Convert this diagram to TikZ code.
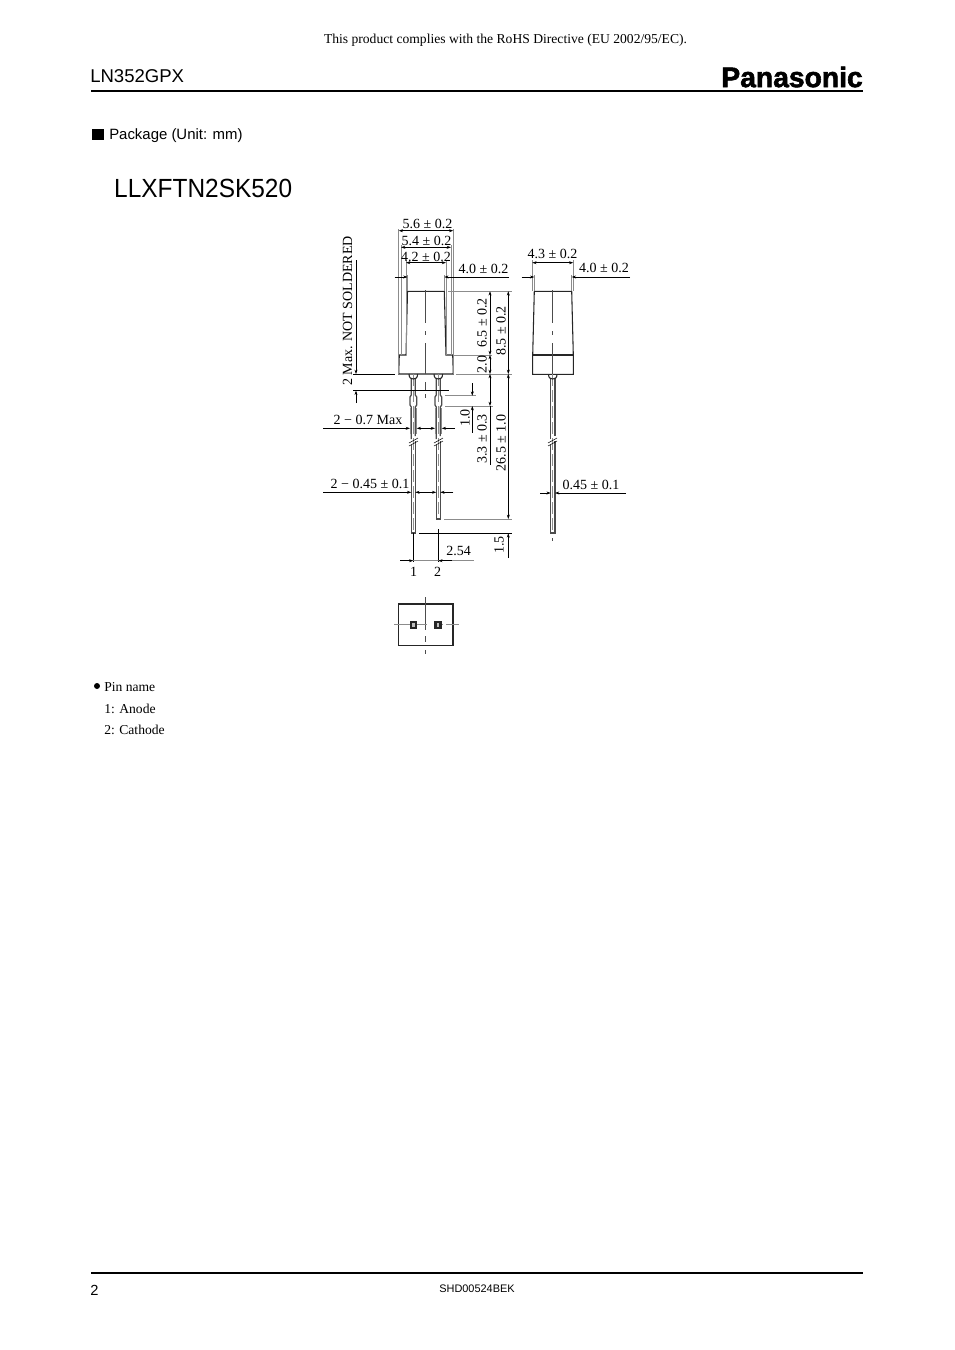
\documentclass[tikz,border=0pt]{standalone}
\usepackage{fontspec}
\setmainfont{Liberation Serif}
\setsansfont{Liberation Sans}
\newfontfamily\logofont[FakeBold=2]{Liberation Sans Bold}
\usetikzlibrary{arrows.meta}
\tikzset{
  dimtext/.style={inner sep=0pt,font=\fontsize{10.5}{12}\selectfont},
  sidetext/.style={dimtext,rotate=90},
  headtext/.style={inner sep=0pt,anchor=west,font=\sffamily},
  pintext/.style={inner sep=0pt,anchor=west,font=\fontsize{10.2}{12}\selectfont},
  outline/.style={line width=0.8pt,black!85},
  dimline/.style={line width=0.4pt,black,arrows={-}},
  extline/.style={line width=0.7pt,black!45},
  tipin/.style={-{Stealth[length=3.2pt,width=2.2pt]}},
  tipboth/.style={{Stealth[length=3.2pt,width=2.2pt]}-{Stealth[length=3.2pt,width=2.2pt]}},
  centerline/.style={line width=0.4pt,black!70},
  pinedge/.style={line width=0.95pt,black!70},
  pincore/.style={line width=0.8pt,black!45,dash pattern=on 9pt off 3pt},
  pad/.style={line width=1.8pt,black!85,fill=black!25}
}
\begin{document}
\begin{tikzpicture}[x=0.75pt,y=-0.75pt]
  \useasboundingbox (0,0) rectangle (954,1350);
  % page head
  \node[inner sep=0pt,font=\fontsize{10.2}{12}\selectfont] (rohs) at (505.5,40) {This product complies with the RoHS Directive (EU 2002/95/EC).};
  \node[headtext,font=\sffamily\fontsize{13.9}{16}\selectfont] (part) at (90,76) {LN352GPX};
  \node[inner sep=0pt,anchor=east,font=\logofont\fontsize{21.2}{24}\selectfont] (logo) at (863,77) {Panasonic};
  \draw[line width=1.5pt] (91,91) -- (863,91);
  \fill (92,129) rectangle (104,140);
  \node[headtext,font=\sffamily\fontsize{11.2}{13}\selectfont] (package) at (109,136) {Package (Unit: mm)};
  \node[headtext,xscale=0.93,font=\sffamily\fontsize{19.7}{23}\selectfont] (code) at (114,188) {LLXFTN2SK520};

  % front view
  \draw[outline] (407.5,291.3) -- (444.3,291.3) -- (446,355) -- (452.7,355) -- (453.3,374) -- (398.7,374) -- (399.3,355) -- (406,355) -- cycle;
  \draw[centerline] (425.7,290) -- (425.7,323) (425.7,331) -- (425.7,335) (425.7,343) -- (425.7,374);
  \draw[centerline] (425.7,382) -- (425.7,390) (425.7,394) -- (425.7,398);
  % leads
  \begin{scope}
    \draw[pincore] (413.3,374) -- (413.3,533);
    \draw[pinedge] (411.3,378) -- (411.3,395) -- (410,397) -- (410,405) -- (411.3,407) -- (411.3,439);
    \draw[pinedge] (415.3,378) -- (415.3,395) -- (416.7,397) -- (416.7,405) -- (415.3,407) -- (415.3,436);
    \draw[pinedge] (411.3,445) -- (411.3,533) -- (415.3,533) -- (415.3,441);
    \draw[pincore] (438.3,374) -- (438.3,519);
    \draw[pinedge] (436.3,378) -- (436.3,395) -- (435,397) -- (435,405) -- (436.3,407) -- (436.3,439);
    \draw[pinedge] (440.3,378) -- (440.3,395) -- (441.7,397) -- (441.7,405) -- (440.3,407) -- (440.3,436);
    \draw[pinedge] (436.3,445) -- (436.3,519) -- (440.3,519) -- (440.3,441);
    \draw[outline] (409,374) .. controls (409,378) and (411,379) .. (413.3,379) .. controls (415.6,379) and (417.6,378) .. (417.6,374);
    \draw[outline] (434,374) .. controls (434,378) and (436,379) .. (438.3,379) .. controls (440.6,379) and (442.6,378) .. (442.6,374);
    \draw[dimline] (409,443) -- (418,438) (409,446) -- (418,441);
    \draw[dimline] (434,443) -- (443,438) (434,446) -- (443,441);
  \end{scope}

  % front view, extension lines
  \draw[extline] (398.7,229) -- (398.7,374);
  \draw[extline] (453.3,229) -- (453.3,374);
  \draw[extline] (401,245) -- (401,355);
  \draw[extline] (451,245) -- (451,355);
  \draw[extline] (406,260) -- (406,355);
  \draw[extline] (446,260) -- (446,355);
  \draw[extline] (407.5,275) -- (407.5,291);
  \draw[extline] (444.3,275) -- (444.3,291);
  \draw[extline] (448,291.3) -- (512,291.3);
  \draw[extline] (453,355) -- (492,355);
  \draw[extline] (456,374) -- (512,374);
  \draw[dimline] (353,374) -- (395,374);
  \draw[extline] (445,395.7) -- (476,395.7);
  \draw[extline] (445,406) -- (493,406);
  \draw[extline] (444,519) -- (512,519);
  \draw[dimline] (419,533.3) -- (512,533.3);
  \draw[dimline] (353,390.7) -- (449.3,390.7);
  \draw[dimline] (413.3,533) -- (413.3,562);
  \draw[dimline] (438.3,529) -- (438.3,562);
  \draw[extline] (410,408) -- (410,434);
  \draw[extline] (416.7,408) -- (416.7,434);
  \draw[extline] (435,408) -- (435,434);
  \draw[extline] (441.7,408) -- (441.7,434);

  % front view, dimensions
  \draw[dimline,tipboth] (398.7,230.7) -- (453.3,230.7);
  \draw[dimline,tipboth] (401,247.3) -- (451,247.3);
  \draw[dimline,tipboth] (406,262.7) -- (446,262.7);
  \draw[dimline,tipin] (394.7,277) -- (407.5,277);
  \draw[dimline,tipin] (509,277) -- (444.3,277);
  \draw[dimline,tipboth] (490,291.3) -- (490,355);
  \draw[dimline,tipboth] (490,355) -- (490,374);
  \draw[dimline,tipboth] (508.3,291.3) -- (508.3,374);
  \draw[dimline,tipboth] (508.3,374) -- (508.3,519);
  \draw[dimline,tipin] (508.3,558) -- (508.3,533.3);
  \draw[dimline,tipboth] (490,374) -- (490,406);
  \draw[dimline] (490,406) -- (490,465);
  \draw[dimline,tipin] (356,260) -- (356,374);
  \draw[dimline,tipin] (356,403) -- (356,390.7);
  \draw[dimline,tipin] (472.3,383.3) -- (472.3,395.7);
  \draw[dimline,tipin] (472.3,432.7) -- (472.3,406);
  \draw[dimline,tipin] (323.3,428.3) -- (410,428.3);
  \draw[dimline,tipin] (428,428.3) -- (416.7,428.3);
  \draw[dimline,tipin] (424,428.3) -- (435,428.3);
  \draw[dimline,tipin] (455,428.3) -- (441.7,428.3);
  \draw[dimline,tipin] (323.3,492.3) -- (411.3,492.3);
  \draw[dimline,tipin] (428,492.3) -- (415.3,492.3);
  \draw[dimline,tipin] (424,492.3) -- (436.3,492.3);
  \draw[dimline,tipin] (453.3,492.3) -- (440.3,492.3);
  \draw[extline] (400,560.7) -- (474,560.7);
  \draw[dimline,tipin] (400,560.7) -- (413.3,560.7);
  \draw[dimline,tipin] (452,560.7) -- (438.3,560.7);

  % front view, texts
  \node[dimtext] (width a) at (427.5,224) {5.6 ± 0.2};
  \node[dimtext] (width b) at (426.5,241) {5.4 ± 0.2};
  \node[dimtext] (width c) at (426,256.5) {4.2 ± 0.2};
  \node[dimtext] (width d) at (483.5,269) {4.0 ± 0.2};
  \node[sidetext] (note) at (347.5,311) {2 Max. NOT SOLDERED};
  \node[sidetext] (height a) at (482,364.5) {2.0};
  \node[sidetext] (height b) at (482,323) {6.5 ± 0.2};
  \node[sidetext] (height c) at (501,331) {8.5 ± 0.2};
  \node[sidetext] (height d) at (465,418) {1.0};
  \node[sidetext] (height e) at (482,439) {3.3 ± 0.3};
  \node[sidetext] (height f) at (501,443) {26.5 ± 1.0};
  \node[sidetext] (height g) at (499,545) {1.5};
  \node[dimtext] (lead a) at (368,420) {2 − 0.7 Max};
  \node[dimtext] (lead b) at (370,484) {2 − 0.45 ± 0.1};
  \node[dimtext] (pitch) at (458.5,551) {2.54};
  \node[dimtext] (pin a) at (413.5,572) {1};
  \node[dimtext] (pin b) at (437.5,572) {2};

  % side view
  \draw[outline] (534.3,291.3) -- (571.7,291.3) -- (573.3,355) -- (573.3,374.3) -- (532.7,374.3) -- (532.7,355) -- cycle;
  \draw[outline] (532.7,355) -- (573.3,355);
  \draw[centerline] (552.7,290) -- (552.7,323) (552.7,331) -- (552.7,335) (552.7,343) -- (552.7,374);
  \draw[extline] (532.3,260) -- (532.3,291);
  \draw[extline] (573.3,260) -- (573.3,291);
  \draw[extline] (534.3,275) -- (534.3,291);
  \draw[extline] (571.7,275) -- (571.7,291);
  \draw[pincore] (552.7,374) -- (552.7,533);
  \draw[pinedge] (550.7,378) -- (550.7,439) (555,378) -- (555,436);
  \draw[pinedge] (550.7,445) -- (550.7,533) -- (555,533) -- (555,441);
  \draw[outline] (548.5,374.3) .. controls (548.5,378) and (550.5,379) .. (552.7,379) .. controls (555,379) and (557,378) .. (557,374.3);
  \draw[dimline] (548,443) -- (557,438) (548,446) -- (557,441);
  \draw[centerline] (552.7,538) -- (552.7,541);
  \draw[dimline,tipboth] (532.3,262.7) -- (573.3,262.7);
  \draw[dimline,tipin] (521.7,277) -- (534.3,277);
  \draw[dimline,tipin] (630,277) -- (571.7,277);
  \draw[dimline,tipin] (540,493) -- (550.7,493);
  \draw[dimline,tipin] (626,493) -- (555,493);
  \node[dimtext] (depth a) at (552.5,254) {4.3 ± 0.2};
  \node[dimtext] (depth b) at (604,268) {4.0 ± 0.2};
  \node[dimtext] (depth c) at (591,485) {0.45 ± 0.1};

  % bottom view
  \draw[outline] (398.3,604) rectangle (453,645.3);
  \draw[centerline] (425.7,597) -- (425.7,630) (425.7,636) -- (425.7,642) (425.7,650) -- (425.7,654);
  \draw[extline] (394,624.7) -- (427,624.7) (434,624.7) -- (443,624.7) (446,624.7) -- (459,624.7);
  \draw[pad] (410.8,621.7) rectangle (415.8,627.7);
  \draw[pad] (435.3,621.7) rectangle (440.3,627.7);

  % pin names
  \fill (97,686) circle (3);
  \node[pintext] (name head) at (104,687) {Pin name};
  \node[pintext] (name a) at (104,709) {1: Anode};
  \node[pintext] (name b) at (104,730) {2: Cathode};

  % page foot
  \draw[line width=1.1pt] (91,1273) -- (863,1273);
  \node[headtext,font=\sffamily\fontsize{11}{13}\selectfont] (page) at (90,1290) {2};
  \node[inner sep=0pt,font=\sffamily\fontsize{8.2}{10}\selectfont] (doc) at (477,1289) {SHD00524BEK};
\end{tikzpicture}
\end{document}
